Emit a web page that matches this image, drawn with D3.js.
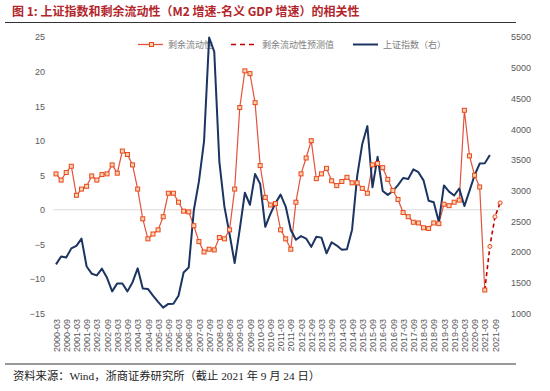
<!DOCTYPE html>
<html><head><meta charset="utf-8">
<script src="https://cdn.jsdelivr.net/npm/d3@7/dist/d3.min.js"></script>
<style>
html,body{margin:0;padding:0;background:#fff;}
svg{display:block;}
</style></head>
<body>
<svg id="c" width="550" height="391"></svg>
<script>
const categories = [
"2000-03","2000-06","2000-09","2000-12","2001-03","2001-06","2001-09","2001-12",
"2002-03","2002-06","2002-09","2002-12","2003-03","2003-06","2003-09","2003-12",
"2004-03","2004-06","2004-09","2004-12","2005-03","2005-06","2005-09","2005-12",
"2006-03","2006-06","2006-09","2006-12","2007-03","2007-06","2007-09","2007-12",
"2008-03","2008-06","2008-09","2008-12","2009-03","2009-06","2009-09","2009-12",
"2010-03","2010-06","2010-09","2010-12","2011-03","2011-06","2011-09","2011-12",
"2012-03","2012-06","2012-09","2012-12","2013-03","2013-06","2013-09","2013-12",
"2014-03","2014-06","2014-09","2014-12","2015-03","2015-06","2015-09","2015-12",
"2016-03","2016-06","2016-09","2016-12","2017-03","2017-06","2017-09","2017-12",
"2018-03","2018-06","2018-09","2018-12","2019-03","2019-06","2019-09","2019-12",
"2020-03","2020-06","2020-09","2020-12","2021-03","2021-06","2021-09","2021-12"];

const tickLabels = [
"2000-03","2000-09","2001-03","2001-09","2002-03","2002-09","2003-03","2003-09",
"2004-03","2004-09","2005-03","2005-09","2006-03","2006-09","2007-03","2007-09",
"2008-03","2008-09","2009-03","2009-09","2010-03","2010-09","2011-03","2011-09",
"2012-03","2012-09","2013-03","2013-09","2014-03","2014-09","2015-03","2015-09",
"2016-03","2016-09","2017-03","2017-09","2018-03","2018-09","2019-03","2019-09",
"2020-03","2020-09","2021-03","2021-09"];

const leftTicks = [-15,-10,-5,0,5,10,15,20,25];
const rightTicks = [1000,1500,2000,2500,3000,3500,4000,4500,5000,5500];

// 剩余流动性 (M2 增速 - 名义 GDP 增速), %
const liquidity = [
 5.2, 4.3, 5.4, 6.3, 2.1, 3.0, 3.4, 4.9,
 4.3, 5.1, 5.2, 6.5, 5.3, 8.5, 8.0, 6.5,
 3.0,-1.3,-4.2,-3.5,-2.9,-1.0, 2.4, 2.4,
 1.1,-0.2,-0.3,-2.3,-4.6,-6.1,-5.7,-5.8,
-4.0,-4.2,-2.9, 3.0,14.8,20.1,19.7,15.5,
 6.4, 1.8, 0.7, 0.9,-2.9,-4.2,-5.7, 1.1,
 5.2, 7.5,10.0, 4.5, 5.2, 6.0, 4.2, 3.5,
 4.1, 4.7, 3.9, 3.9, 3.1, 2.4, 6.5, 6.7,
 6.1, 4.4, 2.8, 1.5,-0.4,-1.0,-1.8,-1.9,
-2.6,-2.7,-1.9,-2.0, 0.8, 0.6, 1.1, 1.4,
14.4, 7.8, 5.0, 3.3,-11.6];

// 剩余流动性预测值 (starts at the last actual point)
const forecastCats = ["2021-03","2021-06","2021-09","2021-12"];
const forecast = [-11.6,-5.3,-1.0,1.0];

// 上证指数 (右轴)
const sse = [
1800,1928,1910,2060,2100,2218,1765,1648,
1620,1730,1581,1360,1490,1487,1360,1510,
1735,1405,1400,1290,1190,1095,1156,1160,
1290,1668,1750,2680,3150,3800,5490,5262,
3473,2736,2293,1821,2373,2965,2770,3270,
3110,2410,2620,2800,2935,2740,2360,2200,
2260,2220,2085,2250,2235,1978,2160,2105,
2036,2045,2364,3235,3760,4050,3053,3550,
2995,2930,2995,3090,3205,3190,3345,3300,
3167,2835,2810,2490,3085,2983,2920,3035,
2748,2995,3250,3440,3445,3580];

const svg = d3.select("#c");
const W = 550, H = 391;
const plotL = 53.4, plotR = 502.7, plotT = 37, plotB = 313.5;

const orange = "#e2533b", mkStroke = "#e8481c", mkFill = "#fbd2b0";
const navy = "#1c3461", darkRed = "#c00000";

const x = d3.scalePoint().domain(categories).range([56, 500.1]);
const yL = d3.scaleLinear().domain([-15,25]).range([plotB, plotT]);
const yR = d3.scaleLinear().domain([1000,5500]).range([plotB, plotT]);

// Title
svg.append("text").attr("x",12).attr("y",16)
  .attr("font-family","'Noto Sans CJK SC', 'Liberation Sans', sans-serif")
  .attr("font-weight","bold").attr("font-size",12).attr("fill","#b3262b")
  .text("图 1: 上证指数和剩余流动性（M2 增速-名义 GDP 增速）的相关性");
svg.append("line").attr("x1",5).attr("x2",516).attr("y1",22.5).attr("y2",22.5)
  .attr("stroke","#333").attr("stroke-width",1.2);

// Footer
svg.append("line").attr("x1",5).attr("x2",516).attr("y1",364).attr("y2",364)
  .attr("stroke","#333").attr("stroke-width",1.2);
svg.append("text").attr("x",13).attr("y",379.5)
  .attr("font-family","'Liberation Serif', 'Noto Sans CJK SC', serif")
  .attr("font-size",11.3).attr("fill","#222")
  .text("资料来源：Wind，浙商证券研究所（截止 2021 年 9 月 24 日）");

// zero line
svg.append("line").attr("x1",plotL).attr("x2",plotR)
  .attr("y1",yL(0)).attr("y2",yL(0)).attr("stroke","#d9d9d9").attr("stroke-width",1);

// axes
const axisFont = "'Liberation Sans', Arial, sans-serif";
const gL = svg.append("g").attr("transform",`translate(48,0)`)
  .call(d3.axisLeft(yL).tickValues(leftTicks).tickSize(0).tickPadding(3).tickFormat(d3.format("d")));
const gR = svg.append("g").attr("transform",`translate(508,0)`)
  .call(d3.axisRight(yR).tickValues(rightTicks).tickSize(0).tickPadding(3).tickFormat(d3.format("d")));
const gX = svg.append("g").attr("transform",`translate(0,313)`)
  .call(d3.axisBottom(x).tickValues(tickLabels).tickSize(0));
[gL,gR,gX].forEach(g=>{
  g.select(".domain").remove();
  g.selectAll("text").attr("font-family",axisFont).attr("font-size",9).attr("fill","#595959");
});
gX.selectAll("text").attr("transform","rotate(-90)").attr("text-anchor","end")
  .attr("x",-6).attr("y",0).attr("dy","0.35em");

// Legend (drawn beneath series)
const lg = svg.append("g").attr("font-family","'Noto Sans CJK SC', sans-serif")
  .attr("font-size",9).attr("fill","#808080");
const ly = 44.5;
lg.append("line").attr("x1",138).attr("x2",163).attr("y1",ly).attr("y2",ly)
  .attr("stroke",orange).attr("stroke-width",1.3);
lg.append("rect").attr("x",149.5).attr("y",ly-2).attr("width",4).attr("height",4)
  .attr("fill",mkFill).attr("stroke",mkStroke).attr("stroke-width",1);
lg.append("text").attr("x",168).attr("y",ly).attr("dy","0.35em").text("剩余流动性");
lg.append("line").attr("x1",231).attr("x2",257).attr("y1",ly).attr("y2",ly)
  .attr("stroke",darkRed).attr("stroke-width",1.6).attr("stroke-dasharray","5,4");
lg.append("text").attr("x",262).attr("y",ly).attr("dy","0.35em").text("剩余流动性预测值");
lg.append("line").attr("x1",353).attr("x2",378).attr("y1",ly).attr("y2",ly)
  .attr("stroke",navy).attr("stroke-width",2);
lg.append("text").attr("x",383).attr("y",ly).attr("dy","0.35em").text("上证指数（右）");

// liquidity line
const liqData = liquidity.map((v,i)=>({c:categories[i],v}));
svg.append("path").datum(liqData)
  .attr("d",d3.line().x(d=>x(d.c)).y(d=>yL(d.v)))
  .attr("fill","none").attr("stroke",orange).attr("stroke-width",1.2);

// forecast dashed line
const fcData = forecast.map((v,i)=>({c:forecastCats[i],v}));
svg.append("path").datum(fcData)
  .attr("d",d3.line().x(d=>x(d.c)).y(d=>yL(d.v)))
  .attr("fill","none").attr("stroke",darkRed).attr("stroke-width",1.6)
  .attr("stroke-dasharray","4,3");

// SSE line
const sseData = sse.map((v,i)=>({c:categories[i],v}));
svg.append("path").datum(sseData)
  .attr("d",d3.line().x(d=>x(d.c)).y(d=>yR(d.v)))
  .attr("fill","none").attr("stroke",navy).attr("stroke-width",2)
  .attr("stroke-linejoin","round");

// markers
svg.append("g").selectAll("rect").data(liqData).join("rect")
  .attr("x",d=>x(d.c)-2).attr("y",d=>yL(d.v)-2).attr("width",4).attr("height",4)
  .attr("fill",mkFill).attr("stroke",mkStroke).attr("stroke-width",1);
svg.append("g").selectAll("circle").data(fcData.slice(1)).join("circle")
  .attr("cx",d=>x(d.c)).attr("cy",d=>yL(d.v)).attr("r",2)
  .attr("fill","#fde9d9").attr("stroke",mkStroke).attr("stroke-width",1);
</script>
</body></html>
